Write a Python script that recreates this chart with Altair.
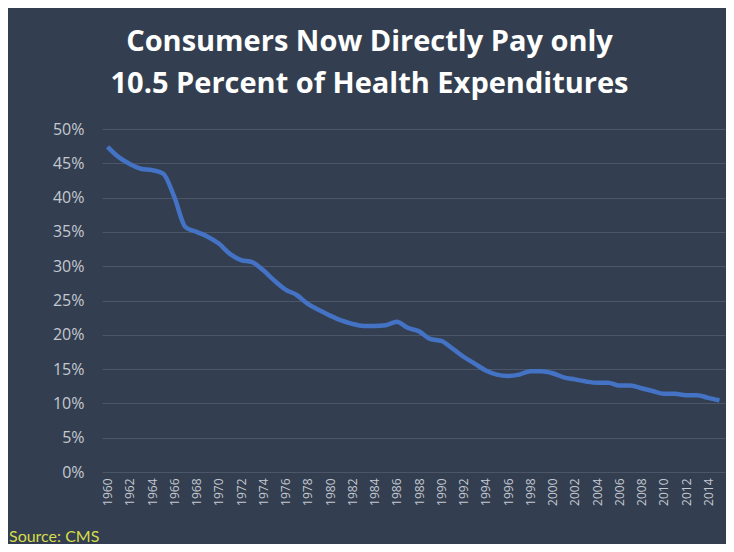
import altair as alt
import pandas as pd

years = list(range(1960, 2016))
share = [47.4, 45.9, 44.9, 44.2, 44.0, 43.5, 40.1, 35.7, 35.0, 34.3,
         33.3, 31.8, 30.9, 30.6, 29.4, 27.9, 26.6, 25.8, 24.5, 23.6,
         22.8, 22.1, 21.6, 21.3, 21.3, 21.4, 21.9, 21.0, 20.5, 19.4,
         19.1, 18.0, 16.8, 15.8, 14.8, 14.2, 14.0, 14.2, 14.7, 14.7,
         14.4, 13.8, 13.5, 13.2, 13.0, 13.0, 12.6, 12.6, 12.2, 11.8,
         11.4, 11.4, 11.2, 11.2, 10.8, 10.45]
x_ticks = list(range(1960, 2015, 2))
y_ticks = [0, 5, 10, 15, 20, 25, 30, 35, 40, 45, 50]
title_lines = ["Consumers Now Directly Pay only", "10.5 Percent of Health Expenditures"]
source_text = "Source: CMS"

df = pd.DataFrame({"year": years, "share": [v / 100 for v in share]})

BG = "#333F50"
FONT = "Open Sans"
LABEL = "#c4c8d0"

line = alt.Chart(df).mark_line(color="#4472C4", strokeWidth=4.5, interpolate="monotone").encode(
    x=alt.X("year:Q",
            scale=alt.Scale(domain=[1959.5, 2015.5], nice=False, zero=False),
            axis=alt.Axis(values=x_ticks, format="d", labelAngle=270, grid=False,
                          domain=False, ticks=False, labelPadding=6, labelFontSize=12,
                          labelColor=LABEL, labelFont=FONT, title=None,
                          labelAlign="right", labelBaseline="middle")),
    y=alt.Y("share:Q",
            scale=alt.Scale(domain=[0, 0.5], nice=False),
            axis=alt.Axis(values=[v / 100 for v in y_ticks], format=".0%", grid=True,
                          gridColor="#4C5669", gridWidth=1, domain=False, ticks=False,
                          labelPadding=18, labelFontSize=16, labelColor=LABEL,
                          labelFont=FONT, title=None)),
)

src = alt.Chart(pd.DataFrame({"t": [source_text]})).mark_text(
    align="left", baseline="middle", fontSize=16, font="Lato", color="#D6DC4A"
).encode(text="t:N", x=alt.value(-93), y=alt.value(408))

chart = alt.layer(line, src).properties(
    width=623, height=343,
    title=alt.TitleParams(title_lines, fontSize=29, font=FONT, fontWeight="bold",
                          color="#FFFFFF", anchor="middle", offset=22, lineHeight=42,
                          dx=-44),
    background=BG,
    padding={"left": 94, "top": 121, "right": 1, "bottom": 72},
    autosize=alt.AutoSizeParams(type="none"),
).configure_view(stroke=None)

chart.save("out.html", embed_options={"renderer": "svg", "actions": False})
